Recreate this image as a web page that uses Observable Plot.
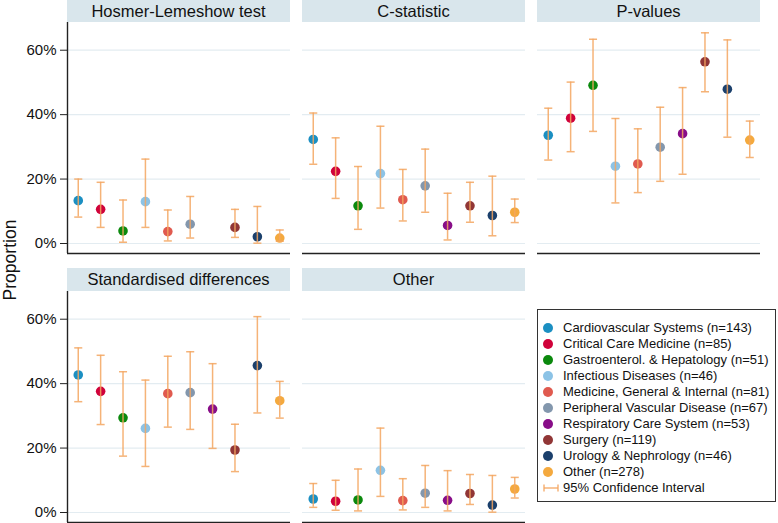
<!DOCTYPE html>
<html>
<head>
<meta charset="utf-8">
<script src="https://cdn.jsdelivr.net/npm/d3@7"></script>
<script src="https://cdn.jsdelivr.net/npm/@observablehq/plot@0.6"></script>
<style>
  html, body { margin: 0; padding: 0; background: #fff; }
  body { font-family: "Liberation Sans", Arial, sans-serif; }
  #root { position: relative; width: 778px; height: 523px; overflow: hidden; }
  .hdr { position: absolute; background: #d9e6ec; color: #111; font-size: 16.5px;
         display: flex; align-items: center; justify-content: center; }
  .pl { position: absolute; }
  .pl svg { overflow: visible; }
  #ylab { position: absolute; left: -40px; top: 250px; width: 100px; height: 20px; line-height: 20px; text-align: center;
          transform: rotate(-90deg); font-size: 17.5px; color: #111; }
  #legend { position: absolute; left: 537px; top: 309px; width: 239px; height: 193px;
            border: 1px solid #333; box-sizing: border-box; }
  .li { position: absolute; left: 0; height: 16px; line-height: 16px; font-size: 13px; color: #111; white-space: nowrap; }
  .li .sw { position: absolute; left: 5px; top: 3px; width: 10px; height: 10px; border-radius: 50%; }
  .li .tx { position: absolute; left: 25px; top: 0; }
</style>
</head>
<body>
<div id="root"></div>
<script>
// ---------------- data ----------------
const categories = ["Cardiovascular Systems", "Critical Care Medicine", "Gastroenterol. & Hepatology",
  "Infectious Diseases", "Medicine, General & Internal", "Peripheral Vascular Disease",
  "Respiratory Care System", "Surgery", "Urology & Nephrology", "Other"];
const counts = [143, 85, 51, 46, 81, 67, 53, 119, 46, 278];
const colors = ["#1b8fc2", "#d0023a", "#0b890d", "#8cc3e6", "#e05a4f", "#8397ad",
  "#880d88", "#913636", "#1b406c", "#f4a93e"];
const panels = ["Hosmer-Lemeshow test", "C-statistic", "P-values", "Standardised differences", "Other"];
const yTicks = [0, 20, 40, 60];

// proportion (%), lower and upper 95% CI per panel, in category order (null = not shown)
const hlP  = [13.3, 10.6, 3.9, 13.0, 3.7, 6.0, null, 5.0, 2.1, 1.7];
const hlLo = [8.2, 5.0, 0.4, 5.0, 0.8, 1.7, null, 1.9, 0.1, 0.7];
const hlHi = [20.0, 19.0, 13.5, 26.2, 10.4, 14.6, null, 10.6, 11.5, 4.2];

const csP  = [32.3, 22.4, 11.7, 21.7, 13.6, 17.9, 5.6, 11.7, 8.7, 9.7];
const csLo = [24.6, 14.0, 4.4, 11.0, 7.0, 9.7, 1.1, 6.6, 2.4, 6.5];
const csHi = [40.5, 32.8, 23.9, 36.4, 23.0, 29.3, 15.6, 19.0, 20.9, 13.8];

const pvP  = [33.6, 38.9, 49.1, 24.0, 24.7, 29.9, 34.1, 56.4, 47.9, 32.1];
const pvLo = [25.9, 28.5, 34.8, 12.6, 15.8, 19.3, 21.5, 47.1, 33.0, 26.7];
const pvHi = [42.0, 50.1, 63.4, 38.8, 35.6, 42.3, 48.4, 65.4, 63.2, 38.0];

const sdP  = [42.7, 37.6, 29.4, 26.1, 36.9, 37.2, 32.1, 19.4, 45.6, 34.7];
const sdLo = [34.4, 27.3, 17.5, 14.3, 26.5, 25.8, 19.9, 12.7, 30.9, 29.3];
const sdHi = [51.1, 48.8, 43.7, 41.1, 48.5, 49.9, 46.2, 27.4, 60.8, 40.7];

const otP  = [4.2, 3.5, 3.9, 13.1, 3.7, 6.0, 3.8, 5.9, 2.3, 7.3];
const otLo = [1.6, 0.7, 0.5, 5.0, 0.8, 1.6, 0.5, 2.5, 0.1, 4.5];
const otHi = [9.0, 10.0, 13.5, 26.2, 10.5, 14.6, 13.0, 11.8, 11.5, 10.9];

const series = [[hlP, hlLo, hlHi], [csP, csLo, csHi], [pvP, pvLo, pvHi], [sdP, sdLo, sdHi], [otP, otLo, otHi]];

// ---------------- layout ----------------
const font = "'Liberation Sans', Arial, sans-serif";
const ciColor = "#f3a660";
const gridColor = "#e3ecf1";
const axisColor = "#222";
const xDom = [-0.48, 9.48];
const yDom = [-3.1, 68.6];
const capHalf = 0.18;
const colX = [67, 302, 537];
const rowTop = [0, 268];
const hdrH = [22, 23];
const panelW = 223, plotH = 231, leftM = 67;

const root = document.getElementById("root");

panels.forEach((name, k) => {
  const col = k % 3, row = Math.floor(k / 3);
  const [P, LO, HI] = series[k];
  const rows = categories.map((c, i) => ({cat: c, i, p: P[i], lo: LO[i], hi: HI[i]})).filter(d => d.p != null);
  const left = col === 0;

  const hdr = document.createElement("div");
  hdr.className = "hdr";
  hdr.style.left = colX[col] + "px";
  hdr.style.top = rowTop[row] + "px";
  hdr.style.width = panelW + "px";
  hdr.style.height = hdrH[row] + "px";
  hdr.textContent = name;
  root.appendChild(hdr);

  const chart = Plot.plot({
    width: left ? panelW + leftM : panelW,
    height: plotH,
    marginLeft: left ? leftM : 0,
    marginRight: 0, marginTop: 0, marginBottom: 0,
    style: {fontFamily: font, fontSize: "15px", color: "#111", background: "transparent", overflow: "visible"},
    x: {domain: xDom, axis: null},
    y: {domain: yDom, axis: null},
    color: {domain: categories, range: colors},
    marks: [
      Plot.gridY(yTicks, {stroke: gridColor, strokeOpacity: 1, strokeWidth: 1.2}),
      left ? Plot.axisY(yTicks, {tickFormat: d => d + "%", tickSize: 7, tickPadding: 4, fontSize: 15, stroke: axisColor, fill: "#111"}) : null,
      left ? Plot.ruleX([xDom[0]], {stroke: axisColor, strokeWidth: 1.4}) : null,
      Plot.ruleY([yDom[0]], {stroke: axisColor, strokeWidth: 1.4}),
      Plot.dot(rows, {x: "i", y: "p", r: 4.8, fill: "cat", stroke: null}),
      Plot.ruleX(rows, {x: "i", y1: "lo", y2: "hi", stroke: ciColor, strokeOpacity: 0.85, strokeWidth: 1.5}),
      Plot.link(rows, {x1: d => d.i - capHalf, x2: d => d.i + capHalf, y1: "hi", y2: "hi", stroke: ciColor, strokeOpacity: 0.85, strokeWidth: 1.5}),
      Plot.link(rows, {x1: d => d.i - capHalf, x2: d => d.i + capHalf, y1: "lo", y2: "lo", stroke: ciColor, strokeOpacity: 0.85, strokeWidth: 1.5})
    ]
  });
  const wrap = document.createElement("div");
  wrap.className = "pl";
  wrap.style.left = (left ? 0 : colX[col]) + "px";
  wrap.style.top = (rowTop[row] + hdrH[row]) + "px";
  wrap.appendChild(chart);
  root.appendChild(wrap);
});

// y label
const yl = document.createElement("div");
yl.id = "ylab";
yl.textContent = "Proportion";
root.appendChild(yl);

// legend
const lg = document.createElement("div");
lg.id = "legend";
categories.forEach((c, i) => {
  const it = document.createElement("div");
  it.className = "li";
  it.style.top = (10 + 16 * i) + "px";
  it.innerHTML = `<span class="sw" style="background:${colors[i]}"></span><span class="tx">${c} (n=${counts[i]})</span>`;
  lg.appendChild(it);
});
const ci = document.createElement("div");
ci.className = "li";
ci.style.top = (10 + 16 * categories.length) + "px";
ci.innerHTML = `<svg width="20" height="16" style="position:absolute;left:4px;top:0"><g stroke="${ciColor}" stroke-opacity="0.85" stroke-width="1.5"><line x1="2" x2="16" y1="8" y2="8"/><line x1="2" x2="2" y1="4.5" y2="11.5"/><line x1="16" x2="16" y1="4.5" y2="11.5"/></g></svg><span class="tx">95% Confidence Interval</span>`;
lg.appendChild(ci);
root.appendChild(lg);
</script>
</body>
</html>
